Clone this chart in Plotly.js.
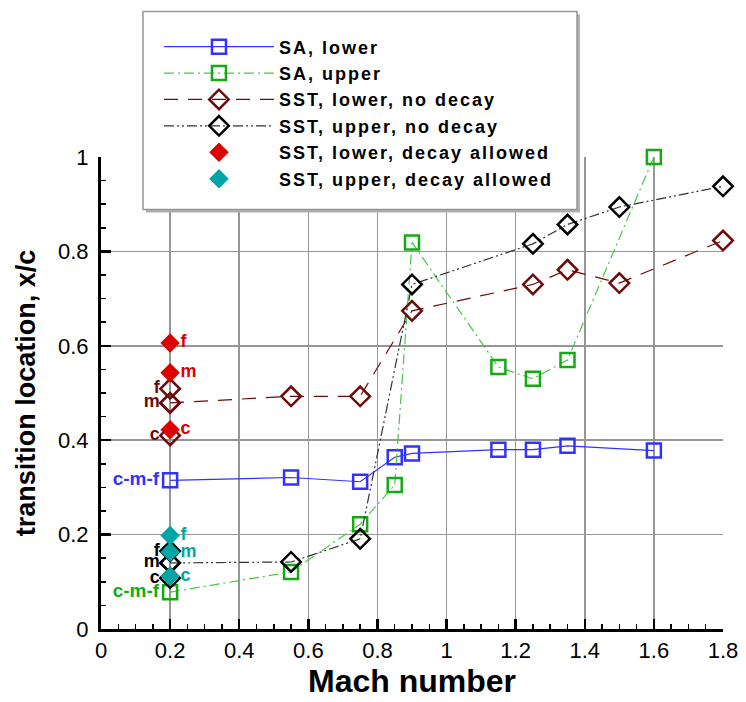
<!DOCTYPE html>
<html><head><meta charset="utf-8">
<script src="https://cdn.plot.ly/plotly-3.0.1.min.js"></script>
<style>html,body{margin:0;padding:0;background:#fff}#chart{width:746px;height:702px}</style>
</head><body><div id="chart"></div>
<script>
// ---- data ----
const machSA = [0.2, 0.55, 0.75, 0.85, 0.9, 1.15, 1.25, 1.35, 1.6];
const saLower = [0.315, 0.321, 0.312, 0.364, 0.372, 0.380, 0.380, 0.388, 0.378];
const saUpper = [0.078, 0.121, 0.222, 0.305, 0.819, 0.555, 0.530, 0.570, 1.0];
const machSST = [0.2, 0.55, 0.75, 0.9, 1.25, 1.35, 1.5, 1.8];
const sstLower = [0.479, 0.493, 0.493, 0.674, 0.730, 0.761, 0.733, 0.823];
const sstUpper = [0.140, 0.142, 0.191, 0.730, 0.816, 0.857, 0.894, 0.938];
const gridMach = [0.2, 0.2, 0.2];
const gridLabels = ['c', 'm', 'f'];
const sstLowerGrids = [0.410, 0.479, 0.509];
const sstUpperGrids = [0.108, 0.140, 0.165];
const sstLowerDecay = [0.422, 0.543, 0.606];
const sstUpperDecay = [0.112, 0.163, 0.198];
const saLowerGridLabel = ['c-m-f'];
const saUpperGridLabel = ['c-m-f'];
const seriesNames = ['SA, lower', 'SA, upper', 'SST, lower, no decay', 'SST, upper, no decay',
                     'SST, lower, decay allowed', 'SST, upper, decay allowed'];
const xTicks = [0, 0.2, 0.4, 0.6, 0.8, 1, 1.2, 1.4, 1.6, 1.8];
const yTicks = [0, 0.2, 0.4, 0.6, 0.8, 1];

const BLUE = 'rgb(50,50,255)', GREEN = 'rgb(20,170,20)', GREENL = 'rgb(70,200,70)';
const DRED = 'rgb(110,10,10)', RED = 'rgb(220,0,0)', CYAN = 'rgb(0,165,165)', BLK = '#000';
const FAM = 'Liberation Sans, Arial, sans-serif';
const lblFont = (c, s) => ({family: FAM, size: s || 18, color: c, weight: 'bold'});
const spaced = (s, px) => '<span style="letter-spacing:' + px + 'px">' + s + '</span>';
const ghost = {size: 16, color: 'rgba(0,0,0,0)', line: {width: 0}};

const traces = [
  {x: machSA, y: saLower, name: spaced(seriesNames[0], 2), mode: 'lines+markers',
   line: {color: BLUE, width: 1.2},
   marker: {symbol: 'square-open', size: 14, color: BLUE, line: {width: 2.5, color: BLUE}}},
  {x: machSA, y: saUpper, name: spaced(seriesNames[1], 2), mode: 'lines+markers',
   line: {color: GREENL, width: 1.2, dash: '10px,4px,2px,4px'},
   marker: {symbol: 'square-open', size: 14, color: GREEN, line: {width: 2.5, color: GREEN}}},
  {x: machSST, y: sstLower, name: spaced(seriesNames[2], 2), mode: 'lines+markers',
   line: {color: DRED, width: 1.2, dash: '14px,10px'},
   marker: {symbol: 'diamond-open', size: 15, color: DRED, line: {width: 2.5, color: DRED}}},
  {x: machSST, y: sstUpper, name: spaced(seriesNames[3], 2), mode: 'lines+markers',
   line: {color: '#333', width: 1.2, dash: '10px,3px,2px,3px,2px,3px'},
   marker: {symbol: 'diamond-open', size: 15, color: BLK, line: {width: 2.5, color: BLK}}},
  // grid-level labels for no-decay runs
  {x: gridMach, y: sstLowerGrids, text: gridLabels, mode: 'markers+text', showlegend: false,
   textposition: 'middle left', textfont: lblFont(DRED),
   marker: {symbol: 'diamond-open', size: 15, color: DRED, line: {width: 2.5, color: DRED}}},
  {x: gridMach, y: sstUpperGrids, text: gridLabels, mode: 'markers+text', showlegend: false,
   textposition: 'middle left', textfont: lblFont(BLK),
   marker: {symbol: 'diamond-open', size: 15, color: BLK, line: {width: 2.5, color: BLK}}},
  {x: [machSA[0]], y: [saLower[0]], text: saLowerGridLabel, mode: 'markers+text', showlegend: false,
   textposition: 'middle left', textfont: lblFont(BLUE, 19), marker: ghost},
  {x: [machSA[0]], y: [saUpper[0]], text: saUpperGridLabel, mode: 'markers+text', showlegend: false,
   textposition: 'middle left', textfont: lblFont(GREEN, 19), marker: ghost},
  {x: gridMach, y: sstLowerDecay, text: gridLabels, name: spaced(seriesNames[4], 2), mode: 'markers+text',
   textposition: 'middle right', textfont: lblFont(RED),
   marker: {symbol: 'diamond', size: 15, color: RED}},
  {x: gridMach, y: sstUpperDecay, text: gridLabels, name: spaced(seriesNames[5], 2), mode: 'markers+text',
   textposition: 'middle right', textfont: lblFont(CYAN),
   marker: {symbol: 'diamond', size: 15, color: CYAN}}
].map(t => Object.assign(t, {cliponaxis: false}));

const axisCommon = {
  showline: true, linecolor: '#000', linewidth: 3,
  showgrid: true, gridcolor: 'rgb(150,150,150)', gridwidth: 1.5,
  zeroline: false, ticks: 'inside', ticklen: 10, tickwidth: 2.5, tickcolor: '#000',
  minor: {ticks: 'inside', ticklen: 5, tickwidth: 1.5, tickcolor: '#000', dtick: 0.05, showgrid: false},
  tickfont: {family: FAM, size: 22, color: '#000'},
  automargin: false
};

const layout = {
  width: 746, height: 702,
  margin: {l: 101, r: 23, t: 152, b: 73},
  paper_bgcolor: '#fff', plot_bgcolor: '#fff',
  showlegend: true,
  xaxis: Object.assign({}, axisCommon, {
    range: [0, 1.8], tickvals: xTicks, ticktext: xTicks.map(String),
    title: {text: 'Mach number', standoff: 4,
      font: {family: FAM, size: 32, color: '#000', weight: 'bold'}}
  }),
  yaxis: Object.assign({}, axisCommon, {
    range: [0, 1], tickvals: yTicks, ticktext: yTicks.map(String), ticklabelstandoff: 5,
    title: {text: 'transition location, x/c', standoff: 15,
      font: {family: FAM, size: 27, color: '#000', weight: 'bold'}}
  }),
  legend: {
    x: 0.0932, y: 1.3082, xanchor: 'left', yanchor: 'top',
    bgcolor: 'rgba(0,0,0,0)', borderwidth: 0,
    itemwidth: 110,
    font: {family: FAM, size: 18, color: '#000', weight: 'bold'},
    title: {text: ' ', font: {size: 13}}
  },
  shapes: [
    {type: 'rect', xref: 'paper', yref: 'paper', x0: 0.0723, x1: 0.770, y0: 0.8826, y1: 1.302,
     fillcolor: 'rgb(175,175,175)', line: {width: 0}, layer: 'above'},
    {type: 'rect', xref: 'paper', yref: 'paper', x0: 0.0675, x1: 0.7653, y0: 0.8889, y1: 1.3082,
     fillcolor: '#fff', line: {width: 1.5, color: 'rgb(150,150,150)'}, layer: 'above'}
  ]
};

Plotly.newPlot('chart', traces, layout, {displayModeBar: false, staticPlot: true});
</script></body></html>
